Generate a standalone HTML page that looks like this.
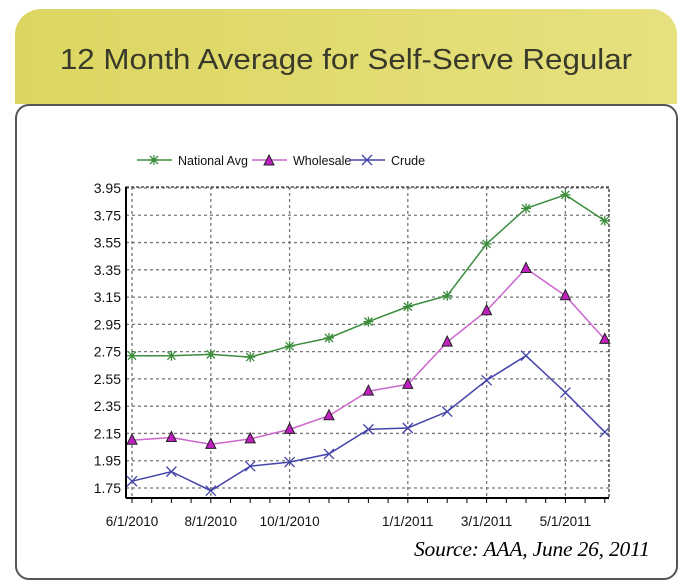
<!DOCTYPE html>
<html><head><meta charset="utf-8"><style>
body{margin:0;width:692px;height:587px;background:#fff;overflow:hidden;font-family:"Liberation Sans",Arial,sans-serif}
#hdr{position:absolute;left:15px;top:9px;width:662px;height:95px;border-radius:26px 26px 0 0;background:linear-gradient(90deg,#dcd661,#e6e17f)}
#title{position:absolute;left:0;width:662px;top:35px;text-align:center;font-size:29px;color:#3a3a2a;transform:scaleX(1.08);transform-origin:center}
#card{position:absolute;left:15px;top:104px;width:659px;height:472px;border:2px solid #555;border-radius:14px;background:#fff}
#src{position:absolute;left:414px;top:537px;font-family:"Liberation Serif",serif;font-style:italic;font-size:21.5px;color:#000;letter-spacing:-0.2px}
svg{position:absolute;left:0;top:0}
</style></head><body>
<div id="hdr"><div id="title">12 Month Average for Self-Serve Regular</div></div>
<div id="card"></div>
<svg id="chart" width="692" height="587"></svg>
<div id="src">Source: AAA, June 26, 2011</div>
<script>
const categories=["6/1/2010","7/1/2010","8/1/2010","9/1/2010","10/1/2010","11/1/2010","12/1/2010","1/1/2011","2/1/2011","3/1/2011","4/1/2011","5/1/2011","6/1/2011"];
const nationalAvg=[2.72,2.72,2.73,2.71,2.79,2.85,2.97,3.08,3.16,3.54,3.80,3.90,3.71];
const wholesale=[2.10,2.12,2.07,2.11,2.18,2.28,2.46,2.51,2.82,3.05,3.36,3.16,2.84];
const crude=[1.80,1.87,1.73,1.91,1.94,2.00,2.18,2.19,2.31,2.54,2.72,2.45,2.16];
const yTicks=[1.75,1.95,2.15,2.35,2.55,2.75,2.95,3.15,3.35,3.55,3.75,3.95];
const xLabelIdx=[0,2,4,7,9,11];
const xLabels=["6/1/2010","8/1/2010","10/1/2010","1/1/2011","3/1/2011","5/1/2011"];

const NS="http://www.w3.org/2000/svg";
const svg=document.getElementById('chart');
const L=126,R=609,T=187,B=498;
const x=i=>132+i*39.4;
const y=v=>488-(v-1.75)*(488-188)/2.2;
function mk(t,a,p){const e=document.createElementNS(NS,t);for(const k in a)e.setAttribute(k,a[k]);(p||svg).appendChild(e);return e;}
yTicks.forEach(v=>{
 const g=mk('line',{x1:L,x2:R,y1:y(v),y2:y(v),stroke:'#777','stroke-dasharray':'3,3','stroke-width':1.3});
 
 
 const t=mk('text',{x:121,y:y(v)+5,'text-anchor':'end','font-size':14,fill:'#111'});t.textContent=v.toFixed(2);
 
 
});
xLabelIdx.forEach((i,k)=>{
 const g=mk('line',{x1:x(i),x2:x(i),y1:T,y2:B,stroke:'#777','stroke-dasharray':'3,3','stroke-width':1.3});
 
 
 const t=mk('text',{x:x(i),y:526,'text-anchor':'middle','font-size':13.5,fill:'#111'});t.textContent=xLabels[k];
 
 
});
for(let i=0;i<categories.length;i++){
 [0,0.5].forEach(o=>{if(i+o<=12){const tk=mk('line',{x1:x(i+o),x2:x(i+o),y1:B,y2:B+5,stroke:'#000'});
 
 }});
}
mk('rect',{x:L,y:T,width:R-L,height:B-T,fill:'none',stroke:'#333','stroke-dasharray':'3,2','stroke-width':1.3});
mk('line',{x1:L,x2:L,y1:T,y2:B,stroke:'#000','stroke-width':2});
mk('line',{x1:L,x2:R,y1:B,y2:B,stroke:'#000','stroke-width':2});
function star(cx,cy,c,p){[[0,-5,0,5],[-5,0,5,0],[-4,-4,4,4],[-4,4,4,-4]].forEach(d=>mk('line',{x1:cx+d[0],y1:cy+d[1],x2:cx+d[2],y2:cy+d[3],stroke:c,'stroke-width':1.3},p));}
function tri(cx,cy,p){mk('polygon',{points:`${cx},${cy-6} ${cx-5},${cy+4} ${cx+5},${cy+4}`,fill:'#c020c0',stroke:'#222','stroke-width':1},p);}
function cross(cx,cy,c,p){[[-5,-5,5,5],[-5,5,5,-5]].forEach(d=>mk('line',{x1:cx+d[0],y1:cy+d[1],x2:cx+d[2],y2:cy+d[3],stroke:c,'stroke-width':1.3},p));}
const series=[{d:nationalAvg,c:'#3c8c3c',m:'star',n:'national-avg'},{d:wholesale,c:'#cc66cc',m:'tri',n:'wholesale'},{d:crude,c:'#4444aa',m:'cross',n:'crude'}];
series.forEach(s=>{
 const g=mk('g',{});
 
 
 const pl=mk('polyline',{points:s.d.map((v,i)=>x(i)+','+y(v)).join(' '),fill:'none',stroke:s.c,'stroke-width':1.5},g);
 
 
 s.d.forEach((v,i)=>{if(s.m=='star')star(x(i),y(v),s.c,g);else if(s.m=='tri')tri(x(i),y(v),g);else cross(x(i),y(v),s.c,g);});
});
const leg=[{x:137,t:'National Avg',c:'#3c8c3c',m:'star'},{x:252,t:'Wholesale',c:'#cc66cc',m:'tri'},{x:350,t:'Crude',c:'#4444aa',m:'cross'}];
leg.forEach(l=>{
 const g=mk('g',{});
 
 
 mk('line',{x1:l.x,x2:l.x+35,y1:160,y2:160,stroke:l.c,'stroke-width':1.5},g);
 if(l.m=='star')star(l.x+17,160,l.c,g);else if(l.m=='tri')tri(l.x+17,161,g);else cross(l.x+17,160,l.c,g);
 const t=mk('text',{x:l.x+41,y:165,'font-size':12.5,fill:'#111'},g);t.textContent=l.t;
});
</script>
</body></html>
